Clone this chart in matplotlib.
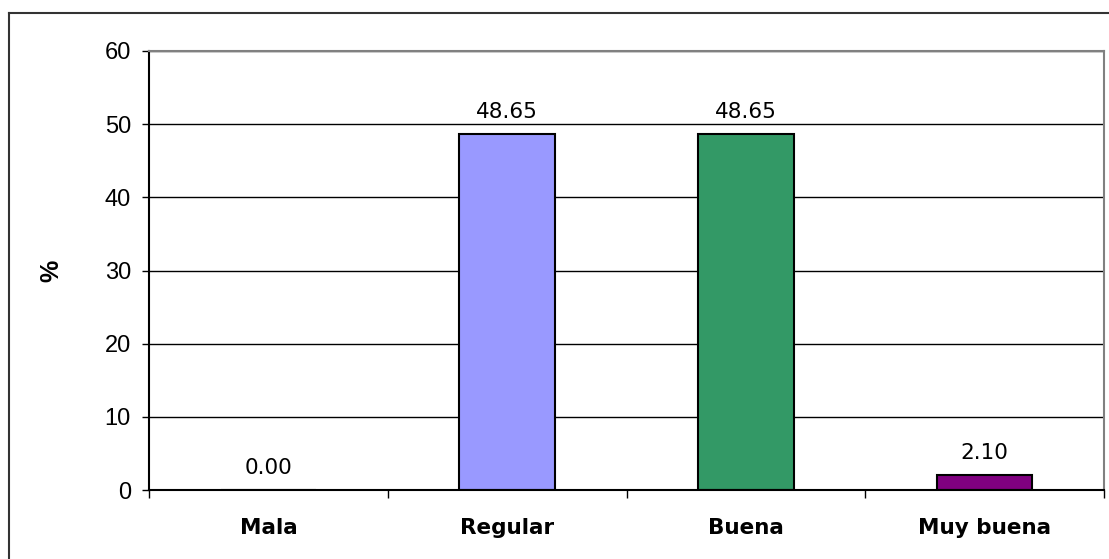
import matplotlib
matplotlib.use("Agg")
import matplotlib.pyplot as plt
from matplotlib.lines import Line2D

# survey results, percent of answers per rating
categories = ["Mala", "Regular", "Buena", "Muy buena"]
percentages = [0.00, 48.65, 48.65, 2.10]
bar_colors = ["#9999FF", "#9999FF", "#339966", "#800080"]
y_ticks = [0, 10, 20, 30, 40, 50, 60]

fig = plt.figure(figsize=(11.09, 5.59), dpi=100)
ax = fig.add_axes([0.1344, 0.1234, 0.9955 - 0.1344, 0.9088 - 0.1234])

x = list(range(len(categories)))
bars = ax.bar(x, percentages, width=0.4, color=bar_colors,
              edgecolor="black", linewidth=1.5, zorder=3)

# value labels above each bar
for xi, val in zip(x, percentages):
    ax.annotate(f"{val:.2f}", (xi, val), xytext=(0, 8.5), textcoords="offset points",
                ha="center", va="bottom", fontsize=15.5, family="DejaVu Sans")

ax.set_xlim(-0.5, len(categories) - 0.5)
ax.set_ylim(0, 60)
ax.set_yticks(y_ticks)
ax.set_yticklabels([str(t) for t in y_ticks], family="Liberation Sans", fontsize=17)
ax.tick_params(axis="y", length=5, width=1, pad=8, color="black")

# category names centred, tick marks between categories
ax.set_xticks(x)
ax.set_xticklabels(categories, fontsize=15.5, fontweight="bold", family="DejaVu Sans")
ax.tick_params(axis="x", which="major", length=0, pad=20)
ax.set_xticks([i - 0.5 for i in range(len(categories) + 1)], minor=True)
ax.tick_params(axis="x", which="minor", length=6, width=1, color="black")

ax.set_ylabel("%", fontsize=18, fontweight="bold", family="Liberation Sans", labelpad=30)

ax.yaxis.grid(True, color="black", linewidth=1)
ax.set_axisbelow(True)
ax.spines["left"].set_color("black")
ax.spines["bottom"].set_color("black")
ax.spines["bottom"].set_zorder(4)
ax.spines["top"].set_color("#808080")
ax.spines["right"].set_color("#808080")
for s in ax.spines.values():
    s.set_linewidth(1.5)

# chart area border (top and left edges)
fig.add_artist(Line2D([9 / 1109, 1.01], [1 - 13 / 559, 1 - 13 / 559],
                      transform=fig.transFigure, color="#333333", linewidth=1.5))
fig.add_artist(Line2D([9 / 1109, 9 / 1109], [1 - 13 / 559, -0.01],
                      transform=fig.transFigure, color="#333333", linewidth=1.5))

fig.savefig("out.png", dpi=100)
